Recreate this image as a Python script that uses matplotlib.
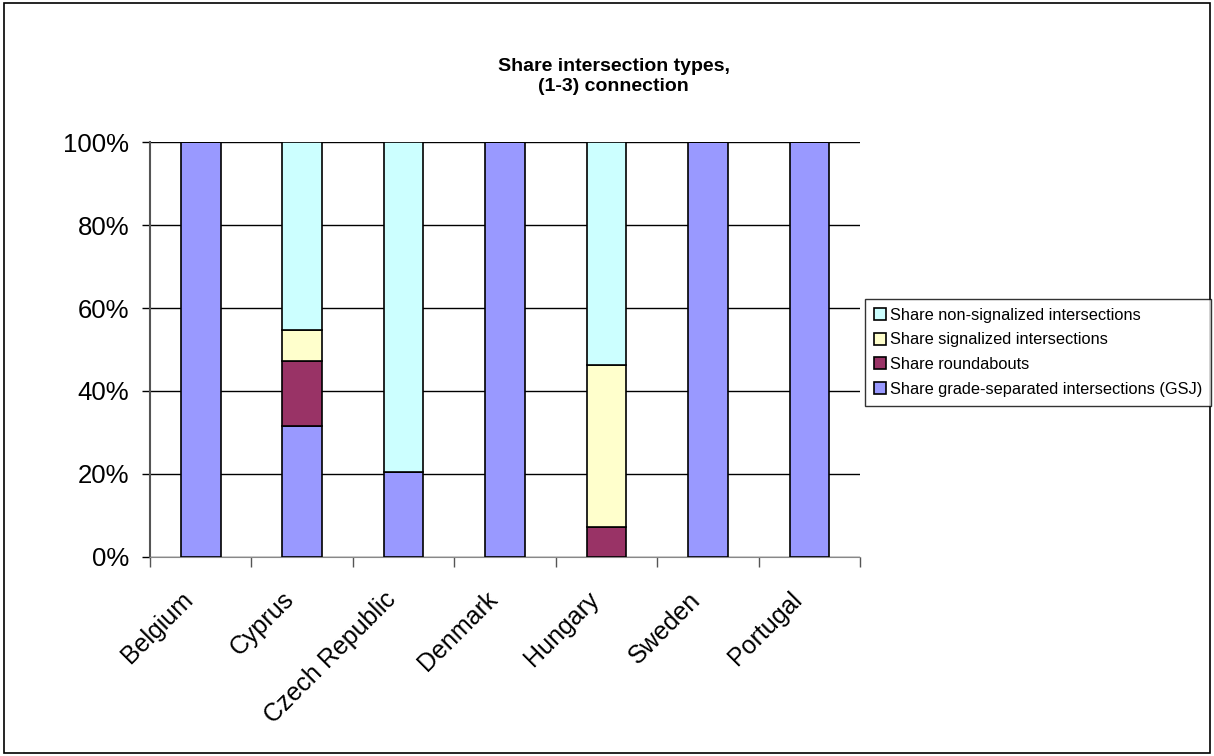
import numpy as np
import matplotlib
matplotlib.use("Agg")
import matplotlib.pyplot as plt
import matplotlib.transforms as mtransforms
from matplotlib.patches import Rectangle

plt.rcParams['font.family'] = ['Liberation Sans', 'DejaVu Sans']

countries = ["Belgium", "Cyprus", "Czech Republic", "Denmark", "Hungary", "Sweden", "Portugal"]
gsj = [100.0, 31.5, 20.4, 100.0, 0.0, 100.0, 100.0]
roundabouts = [0.0, 15.7, 0.0, 0.0, 7.2, 0.0, 0.0]
signalized = [0.0, 7.6, 0.0, 0.0, 39.1, 0.0, 0.0]
non_signalized = [0.0, 45.2, 79.6, 0.0, 53.7, 0.0, 0.0]

series = [
    ("Share grade-separated intersections (GSJ)", gsj, "#9999FF"),
    ("Share roundabouts", roundabouts, "#993366"),
    ("Share signalized intersections", signalized, "#FFFFCC"),
    ("Share non-signalized intersections", non_signalized, "#CCFFFF"),
]

fig = plt.figure(figsize=(12.14, 7.56), dpi=100)
fig.patches.append(Rectangle((0.003, 0.004), 0.994, 0.992, transform=fig.transFigure,
                             fill=False, edgecolor="black", linewidth=1.2))
ax = fig.add_axes([0.1236, 0.2636, 0.5848, 0.5482])

x = np.arange(len(countries))
bottom = np.zeros(len(countries))
handles = []
for label, vals, col in series:
    vals = np.array(vals)
    b = ax.bar(x, vals, 0.39, bottom=bottom, color=col, edgecolor="black",
               linewidth=1.2, label=label, zorder=3)
    handles.append(b)
    bottom += vals

ax.set_xlim(-0.5, len(countries) - 0.5)
ax.set_ylim(0, 100)
ax.set_yticks(np.arange(0, 101, 20))
ax.set_yticklabels([f"{v}%" for v in range(0, 101, 20)], fontsize=18.5)
ax.yaxis.grid(True, color="black", linewidth=1)
ax.set_axisbelow(True)

ax.set_xticks(x)
ax.set_xticklabels(countries, rotation=45, ha="right", rotation_mode="anchor", fontsize=18)
ax.tick_params(axis="x", length=0, pad=22)
# nudge the slanted country names to the left of their bars
shift = mtransforms.ScaledTranslation(-0.2, 0, fig.dpi_scale_trans)
for lbl in ax.get_xticklabels():
    lbl.set_transform(lbl.get_transform() + shift)
ax.set_xticks(np.arange(-0.5, len(countries)), minor=True)
ax.tick_params(axis="x", which="minor", length=7, color="#555555", width=1)
ax.tick_params(axis="y", length=6, color="black", width=1, pad=9)

for s in ["top", "right"]:
    ax.spines[s].set_visible(False)
ax.spines["left"].set_color("#555555")
ax.spines["bottom"].set_color("#888888")
ax.spines["left"].set_linewidth(1.5)

fig.text(0.5055, 0.899, "Share intersection types,\n(1-3) connection", ha="center",
         va="center", fontsize=14, fontweight="bold", linespacing=1.2)

leg = fig.legend(handles[::-1], [s[0] for s in series][::-1], loc="center left",
                 bbox_to_anchor=(0.7125, 0.534), fontsize=11.8, frameon=True,
                 fancybox=False, edgecolor="black", handlelength=0.75, handleheight=0.75,
                 handletextpad=0.2, borderpad=0.55, labelspacing=0.6, borderaxespad=0)
leg.get_frame().set_linewidth(1)

fig.savefig("out.png", dpi=100)
